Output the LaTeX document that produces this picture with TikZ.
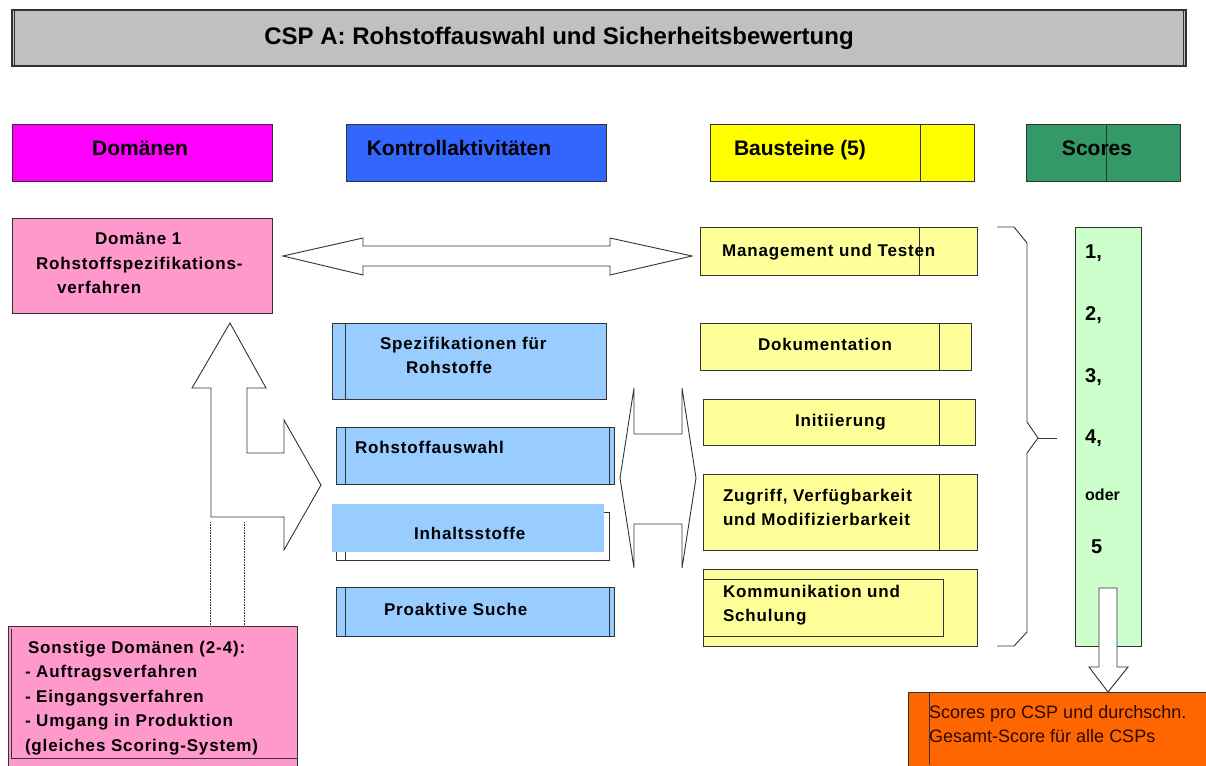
\documentclass[tikz,border=0pt]{standalone}
\usepackage{fontspec}
\setmainfont{Liberation Sans}
\definecolor{lc}{HTML}{333333}
\definecolor{ttlgray}{HTML}{C0C0C0}
\definecolor{hdmag}{HTML}{FF00FF}
\definecolor{hdblue}{HTML}{3366FF}
\definecolor{hdyel}{HTML}{FFFF00}
\definecolor{hdgreen}{HTML}{339966}
\definecolor{pinkbox}{HTML}{FF99CC}
\definecolor{lblue}{HTML}{99CCFF}
\definecolor{lyel}{HTML}{FFFF99}
\definecolor{lgreen}{HTML}{CCFFCC}
\definecolor{orng}{HTML}{FF6600}
\definecolor{orngtxt}{HTML}{2A0A00}
\newcommand{\bodyfnt}{\fontsize{17}{24.5}\selectfont\bfseries\addfontfeatures{LetterSpace=5}}
\newcommand{\hdrfnt}{\fontsize{21}{24}\selectfont\bfseries}
\newcommand{\numfnt}{\fontsize{20}{24}\selectfont\bfseries}
\begin{document}
\begin{tikzpicture}[x=1pt,y=-1pt,
  box/.style={draw=lc, line width=0.9pt, inner sep=0pt, outer sep=0pt, anchor=north west},
  tx/.style={font=\bodyfnt, inner sep=0pt, outer sep=0pt, anchor=north west, align=left},
  hdtx/.style={font=\hdrfnt, inner sep=0pt, anchor=base},
  numtx/.style={font=\numfnt, inner sep=0pt, anchor=west},
  blockarrow/.style={draw=lc, line width=0.9pt, fill=white, line join=miter},
  sepline/.style={draw=lc, line width=0.9pt}
]
\useasboundingbox (0,0) rectangle (1206,765);

% Title
\node[box, fill=ttlgray, line width=1.2pt, minimum width=1174pt, minimum height=56pt] (title) at (12,10) {};
\draw[sepline] ([xshift=2.5pt]title.north west) -- ([xshift=2.5pt]title.south west);
\draw[sepline] ([xshift=-2.5pt]title.north east) -- ([xshift=-2.5pt]title.south east);
\node[font=\fontsize{24}{28}\selectfont\bfseries, inner sep=0pt, anchor=base] (titletx) at (559,44.5) {CSP A: Rohstoffauswahl und Sicherheitsbewertung};

% Headers
\node[box, fill=hdmag, minimum width=260pt, minimum height=57pt] (hdom) at (12,124) {};
\node[hdtx] (hdomtx) at (140,155.5) {Domänen};
\node[box, fill=hdblue, minimum width=260pt, minimum height=57pt] (hkon) at (346,124) {};
\node[hdtx] (hkontx) at (459,155.5) {Kontrollaktivitäten};
\node[box, fill=hdyel, minimum width=264pt, minimum height=57pt] (hbau) at (710,124) {};
\draw[sepline] ([xshift=210pt]hbau.north west) -- ([xshift=210pt]hbau.south west);
\node[hdtx] (hbautx) at (800,155.5) {Bausteine (5)};
\node[box, fill=hdgreen, minimum width=154pt, minimum height=57pt] (hsco) at (1026,124) {};
\draw[sepline] ([xshift=80pt]hsco.north west) -- ([xshift=80pt]hsco.south west);
\node[hdtx] (hscotx) at (1097,155.5) {Scores};

% Domaene 1
\node[box, fill=pinkbox, minimum width=260pt, minimum height=95pt] (dom1) at (12,218) {};
\node[tx] (dom1tx) at (36,233) {\hspace*{59pt}Domäne 1\\Rohstoffspezifikations-\\\hspace*{21pt}verfahren};

% Big horizontal double arrow
\draw[blockarrow] (283,256) -- (363,238) -- (363,246) -- (610,246) -- (610,238) -- (692,256)
  -- (610,275) -- (610,266) -- (363,266) -- (363,275) -- cycle;

% Bent arrow (up and right)
\draw[blockarrow] (211,517) -- (211,388) -- (192,388) -- (230,323) -- (266,388) -- (247,388)
  -- (247,453) -- (284,453) -- (284,420) -- (321,485) -- (284,550) -- (284,517) -- cycle;
\draw[lc, line width=0.6pt, densely dotted] (210,522) -- (210,625);
\draw[lc, line width=0.6pt, densely dotted] (244,522) -- (244,625);

% Kontrollaktivitaeten boxes
\node[box, fill=lblue, minimum width=274pt, minimum height=76pt] (spez) at (332,323) {};
\draw[sepline] ([xshift=13pt]spez.north west) -- ([xshift=13pt]spez.south west);
\node[tx] (speztx) at (380,337) {Spezifikationen für\\\hspace*{26pt}Rohstoffe};

\node[box, fill=lblue, minimum width=278pt, minimum height=57pt] (rohs) at (336,427) {};
\draw[sepline] ([xshift=9pt]rohs.north west) -- ([xshift=9pt]rohs.south west);
\draw[sepline] ([xshift=-5pt]rohs.north east) -- ([xshift=-5pt]rohs.south east);
\node[tx] (rohstx) at (355,441) {Rohstoffauswahl};

\node[box, fill=white, minimum width=273pt, minimum height=48pt] (inha) at (336,512) {};
\draw[sepline] ([xshift=9pt]inha.north west) -- ([xshift=9pt]inha.south west);
\fill[lblue] (332,504) rectangle (604,552);
\node[tx] (inhatx) at (414,527) {Inhaltsstoffe};

\node[box, fill=lblue, minimum width=278pt, minimum height=49pt] (proa) at (336,587) {};
\draw[sepline] ([xshift=9pt]proa.north west) -- ([xshift=9pt]proa.south west);
\draw[sepline] ([xshift=-5pt]proa.north east) -- ([xshift=-5pt]proa.south east);
\node[tx] (proatx) at (384,603) {Proaktive Suche};

% Middle double arrow
\draw[blockarrow] (620,478) -- (634,388) -- (634,434) -- (682,434) -- (682,388) -- (696,478)
  -- (682,568) -- (682,524) -- (634,524) -- (634,568) -- cycle;

% Bausteine boxes
\node[box, fill=lyel, minimum width=277pt, minimum height=48pt] (mgmt) at (700,227) {};
\draw[sepline] (919,227) -- (919,275);
\node[tx] (mgmttx) at (722,244) {Management und Testen};

\node[box, fill=lyel, minimum width=271pt, minimum height=47pt] (doku) at (700,323) {};
\draw[sepline] ([xshift=-32pt]doku.north east) -- ([xshift=-32pt]doku.south east);
\node[tx] (dokutx) at (758,338) {Dokumentation};

\node[box, fill=lyel, minimum width=272pt, minimum height=46pt] (init) at (703,399) {};
\draw[sepline] ([xshift=-36pt]init.north east) -- ([xshift=-36pt]init.south east);
\node[tx] (inittx) at (795,414) {Initiierung};

\node[box, fill=lyel, minimum width=274pt, minimum height=76pt] (zugr) at (703,474) {};
\draw[sepline] ([xshift=-38pt]zugr.north east) -- ([xshift=-38pt]zugr.south east);
\node[tx] (zugrtx) at (723,489) {Zugriff, Verfügbarkeit\\und Modifizierbarkeit};

\node[box, fill=lyel, minimum width=274pt, minimum height=77pt] (komm) at (703,569) {};
\node[box, fill=lyel, minimum width=240pt, minimum height=57pt] (kommin) at (703,579) {};
\node[tx] (kommtx) at (723,585) {Kommunikation und\\Schulung};

% Brace
\draw[lc, line width=0.9pt] (997,227) -- (1014,227) -- (1027,243) -- (1027,422) -- (1038,438)
  -- (1027,453) -- (1027,632) -- (1014,646) -- (997,646);
\draw[lc, line width=0.9pt] (1038,438) coordinate (bracetip) -- (1057,438) coordinate (braceend);

% Scores bar
\node[box, fill=lgreen, minimum width=66pt, minimum height=419pt] (scbar) at (1075,227) {};
\node[numtx] (s1) at (1085,253) {1,};
\node[numtx] (s2) at (1085,315) {2,};
\node[numtx] (s3) at (1085,377) {3,};
\node[numtx] (s4) at (1085,438) {4,};
\node[font=\fontsize{16}{20}\selectfont\bfseries, inner sep=0pt, anchor=west] (soder) at (1085,495) {oder};
\node[numtx] (s5) at (1091,547) {5};

% Orange result box
\node[box, fill=orng, minimum width=310pt, minimum height=80pt] (res) at (908,692) {};
\draw[sepline] (929,692) -- (929,765);
\node[font=\fontsize{18}{24}\selectfont, text=orngtxt, inner sep=0pt, anchor=north west, align=left] (restx) at (929,705) {Scores pro CSP und durchschn.\\Gesamt-Score für alle CSPs};

% Down arrow
\draw[blockarrow] (1099,588) -- (1117,588) -- (1117,667) -- (1128,667) -- (1108,692) -- (1089,667) -- (1099,667) -- cycle;

% Sonstige Domaenen
\node[box, fill=pinkbox, minimum width=289pt, minimum height=145pt] (sonst) at (8,626) {};
\draw[sepline] (11.5,629) -- (11.5,758) -- (297,758);
\node[tx] (sonsttx) at (25,641) {\hspace*{3pt}Sonstige Domänen (2-4):\\- Auftragsverfahren\\- Eingangsverfahren\\- Umgang in Produktion\\(gleiches Scoring-System)};
\end{tikzpicture}
\end{document}
